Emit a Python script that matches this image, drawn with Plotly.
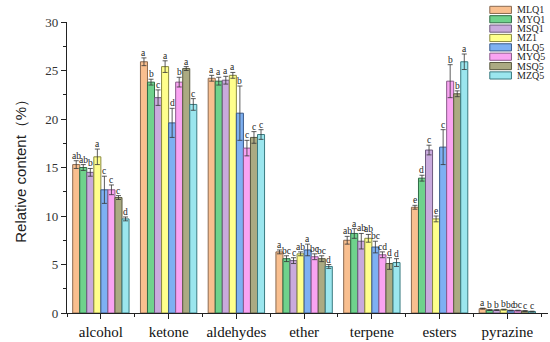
import plotly.graph_objects as go

categories = ["alcohol", "ketone", "aldehydes", "ether", "terpene", "esters", "pyrazine"]
series = ["MLQ1", "MYQ1", "MSQ1", "MZ1", "MLQ5", "MYQ5", "MSQ5", "MZQ5"]
colors = ["#F9BF8F", "#6FD28C", "#C9AADD", "#FFFF8C", "#7EB0F2", "#F9A3F2", "#ABAA82", "#9BE6EE"]
edges = ["#8A6A50", "#2F6B45", "#6E5A7E", "#8A8A40", "#3A5A8A", "#8A5A8A", "#5A5A40", "#3A7A80"]

values = {
    "MLQ1": [15.3, 25.9, 24.2, 6.3, 7.5, 10.9, 0.45],
    "MYQ1": [15.0, 23.8, 23.9, 5.6, 8.2, 13.9, 0.30],
    "MSQ1": [14.5, 22.2, 24.0, 5.4, 7.4, 16.8, 0.30],
    "MZ1":  [16.1, 25.4, 24.5, 6.1, 7.7, 9.7, 0.35],
    "MLQ5": [12.7, 19.6, 20.6, 6.5, 6.8, 17.1, 0.25],
    "MYQ5": [12.7, 23.8, 17.0, 5.8, 6.0, 23.9, 0.25],
    "MSQ5": [11.9, 25.2, 18.1, 5.6, 5.1, 22.6, 0.20],
    "MZQ5": [9.7, 21.5, 18.4, 4.8, 5.2, 25.9, 0.15],
}
errors = {
    "MLQ1": [0.4, 0.4, 0.3, 0.2, 0.4, 0.2, 0.05],
    "MYQ1": [0.3, 0.3, 0.4, 0.3, 0.5, 0.3, 0.04],
    "MSQ1": [0.4, 0.8, 0.4, 0.3, 0.8, 0.5, 0.04],
    "MZ1":  [0.8, 0.6, 0.3, 0.2, 0.4, 0.3, 0.04],
    "MLQ5": [1.4, 1.5, 2.8, 0.6, 0.6, 1.8, 0.04],
    "MYQ5": [0.5, 0.5, 0.8, 0.3, 0.3, 1.7, 0.04],
    "MSQ5": [0.2, 0.2, 0.6, 0.3, 0.6, 0.3, 0.04],
    "MZQ5": [0.2, 0.6, 0.5, 0.2, 0.4, 0.8, 0.04],
}
letters = {
    "MLQ1": ["ab", "a", "a", "a", "ab", "e", "a"],
    "MYQ1": ["ab", "b", "a", "bc", "a", "d", "b"],
    "MSQ1": ["b", "c", "a", "c", "ab", "c", "b"],
    "MZ1":  ["a", "a", "a", "ab", "ab", "e", "b"],
    "MLQ5": ["c", "d", "b", "a", "bc", "c", "bc"],
    "MYQ5": ["c", "b", "c", "bc", "cd", "b", "bc"],
    "MSQ5": ["c", "a", "c", "bc", "d", "b", "c"],
    "MZQ5": ["d", "c", "c", "d", "d", "a", "c"],
}

serif = "Liberation Serif, Times New Roman, serif"
w = 0.104
n = len(series)
xs = list(range(len(categories)))

fig = go.Figure()
annotations = []
for i, s in enumerate(series):
    off = -n * w / 2 + i * w
    fig.add_trace(go.Bar(
        x=xs, y=values[s], name=s, width=w, offset=off,
        marker=dict(color=colors[i], line=dict(color=edges[i], width=1)),
        error_y=dict(type="data", array=errors[s], color="#333333", thickness=0.8, width=2.5),
        showlegend=False,
    ))
    for j, c in enumerate(categories):
        annotations.append(dict(
            x=xs[j] + off + w / 2, y=values[s][j] + errors[s][j], text=letters[s][j],
            showarrow=False, yanchor="bottom", yshift=-2,
            font=dict(family=serif, size=9.5, color="#222"),
        ))

# custom legend (paper coordinates)
shapes = []
for i, s in enumerate(series):
    yc = 1 - (9.8 + 9.43 * i - 22) / 293
    h = 3.6 / 293
    shapes.append(dict(type="rect", xref="paper", yref="paper",
                       x0=0.879, x1=0.924, y0=yc - h, y1=yc + h,
                       fillcolor=colors[i], line=dict(color=edges[i], width=1)))
    annotations.append(dict(xref="paper", yref="paper", x=0.932, y=yc, text=s,
                            showarrow=False, xanchor="left", yanchor="middle",
                            font=dict(family=serif, size=10, color="#222")))

annotations.append(dict(xref="paper", yref="paper", x=-0.119, y=0.5,
                        text="Relative content（%）", textangle=-90, showarrow=False,
                        font=dict(family="Liberation Sans Narrow, Liberation Sans, Arial", size=15, color="#222")))

fig.update_layout(
    width=550, height=342,
    margin=dict(l=67, r=2, t=22, b=27),
    plot_bgcolor="white", paper_bgcolor="white",
    barmode="overlay",
    annotations=annotations, shapes=shapes,
    xaxis=dict(range=[-0.5, 6.6], tickvals=xs, ticktext=categories,
               showgrid=False, zeroline=False, showline=True, linecolor="#222", linewidth=1.2,
               ticks="outside", ticklen=5, tickcolor="#222",
               minor=dict(tickvals=[k + 0.5 for k in range(-1, 7)], ticks="outside", ticklen=3, tickcolor="#222"),
               tickfont=dict(family=serif, size=15, color="#111")),
    yaxis=dict(range=[0, 30], tickvals=[0, 5, 10, 15, 20, 25, 30],
               showgrid=False, zeroline=False, showline=True, linecolor="#222", linewidth=1.2,
               ticks="outside", ticklen=5, tickcolor="#222",
               minor=dict(dtick=2.5, ticks="outside", ticklen=3, tickcolor="#222"),
               tickfont=dict(family=serif, size=13, color="#333")),
)

fig.write_html("out.html", config={"displayModeBar": False},
               post_script="document.body.style.margin='0px';document.body.style.overflow='hidden';")
